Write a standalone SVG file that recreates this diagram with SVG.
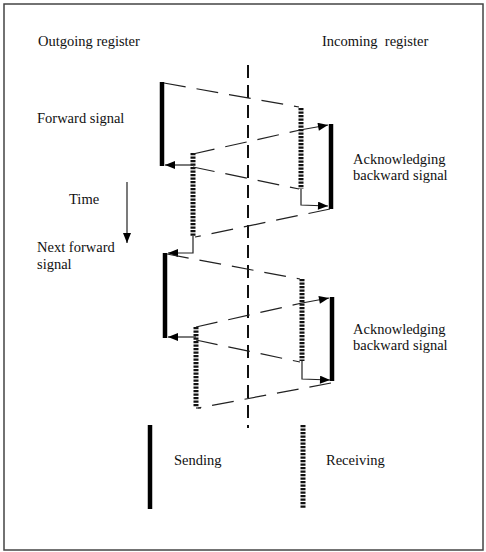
<svg xmlns="http://www.w3.org/2000/svg" width="486" height="552" viewBox="0 0 486 552">
<style>
text{font-family:"Liberation Serif","Times New Roman",serif;font-size:14.5px;fill:#111}
.send{stroke:#000;stroke-width:4.5;fill:none}
.recv{stroke:#111;stroke-width:5;stroke-dasharray:2.2 1.3;fill:none}
.sig{stroke:#222;stroke-width:1.2;stroke-dasharray:22 11;fill:none}
.thin{stroke:#222;stroke-width:1.2;fill:none}
.axis{stroke:#111;stroke-width:2;stroke-dasharray:13 7;fill:none}
</style>
<defs>
<marker id="ah" viewBox="0 0 10 8" refX="10" refY="4" markerWidth="11" markerHeight="8" markerUnits="userSpaceOnUse" orient="auto">
<path d="M0,0 L10,4 L0,8 Z" fill="#000"/>
</marker>
</defs>
<rect x="4" y="4" width="479" height="546" fill="none" stroke="#444" stroke-width="1.5"/>

<g id="labels">
<text x="38" y="46">Outgoing register</text>
<text x="322" y="46">Incoming&#160; register</text>
<text x="37" y="123">Forward signal</text>
<text x="69" y="204">Time</text>
<text x="37" y="252">Next forward</text>
<text x="37" y="269">signal</text>
<text x="353" y="164">Acknowledging</text>
<text x="353" y="180">backward signal</text>
<text x="353" y="334">Acknowledging</text>
<text x="353" y="350">backward signal</text>
<text x="174" y="465">Sending</text>
<text x="326" y="465">Receiving</text>
</g>

<g id="time-arrow">
<line x1="127" y1="182" x2="127" y2="243" class="thin" stroke-width="1.5" marker-end="url(#ah)"/>
</g>

<g id="divider">
<line x1="248" y1="65" x2="248" y2="428" class="axis"/>
</g>

<g id="cycle1-bars">
<line x1="162" y1="82" x2="162" y2="166" class="send"/>
<line x1="301" y1="108" x2="301" y2="189" class="recv"/>
<line x1="331" y1="124" x2="331" y2="209" class="send"/>
<line x1="193" y1="153" x2="193" y2="236" class="recv"/>
</g>

<g id="cycle2-bars">
<line x1="165" y1="253" x2="165" y2="338" class="send"/>
<line x1="302" y1="279" x2="302" y2="361" class="recv"/>
<line x1="332" y1="297" x2="332" y2="381" class="send"/>
<line x1="196" y1="327" x2="196" y2="407" class="recv"/>
</g>

<g id="connectors">
<path d="M164,83 L299,107" class="sig"/>
<path d="M193,154 L300,130" class="sig"/>
<path d="M300,130 L328,125" class="thin" marker-end="url(#ah)"/>
<path d="M193,165 L165,165" class="thin" marker-end="url(#ah)"/>
<path d="M193,167 L299,189" class="sig"/>
<path d="M301,189 L301,205 L328,206" class="thin" marker-end="url(#ah)"/>
<path d="M330,209 L195,237" class="sig"/>
<path d="M193,236 L193,253 L168,253" class="thin" marker-end="url(#ah)"/>
<path d="M167,254 L300,279" class="sig"/>
<path d="M196,327 L302,303" class="sig"/>
<path d="M302,303 L329,298" class="thin" marker-end="url(#ah)"/>
<path d="M196,337 L168,337" class="thin" marker-end="url(#ah)"/>
<path d="M196,340 L300,362" class="sig"/>
<path d="M302,361 L302,379 L330,380" class="thin" marker-end="url(#ah)"/>
<path d="M331,383 L198,408" class="sig"/>
<path d="M196,408 L201,408" class="thin"/>
</g>

<g id="legend">
<line x1="150" y1="425" x2="150" y2="509" class="send"/>
<line x1="303" y1="425" x2="303" y2="508" class="recv"/>
</g>
</svg>
